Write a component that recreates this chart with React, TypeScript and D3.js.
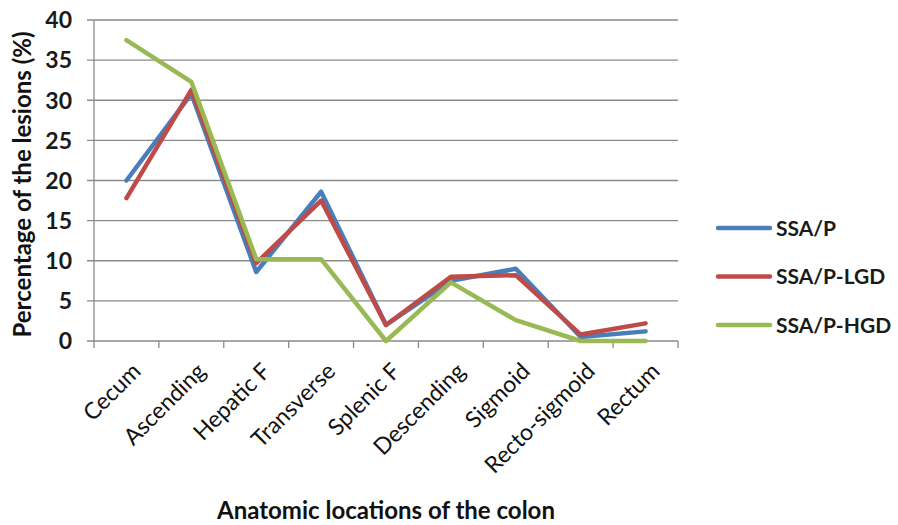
import React, { useEffect, useRef } from 'react';
import * as d3 from 'd3';

const categories = ['Cecum', 'Ascending', 'Hepatic F', 'Transverse', 'Splenic F', 'Descending', 'Sigmoid', 'Recto-sigmoid', 'Rectum'];
const ssaP = [20, 30.8, 8.6, 18.6, 2, 7.5, 9, 0.5, 1.2];
const ssaPLgd = [17.8, 31.3, 9.7, 17.5, 2, 8, 8.2, 0.8, 2.2];
const ssaPHgd = [37.5, 32.3, 10.2, 10.2, 0, 7.3, 2.6, 0, 0];
const yTicks = [0, 5, 10, 15, 20, 25, 30, 35, 40];

const series = [
  { name: 'SSA/P', values: ssaP, color: '#4a7ebb' },
  { name: 'SSA/P-LGD', values: ssaPLgd, color: '#be4b48' },
  { name: 'SSA/P-HGD', values: ssaPHgd, color: '#98b954' },
];

const App: React.FC = () => {
  const svgRef = useRef<SVGSVGElement>(null);
  const width = 898;
  const height = 525;

  useEffect(() => {
    if (!svgRef.current) return;
    const svg = d3.select(svgRef.current);
    svg.selectAll('*').remove();

    const margin = { top: 20, right: 220, bottom: 184, left: 94 };
    const innerW = width - margin.left - margin.right;
    const innerH = height - margin.top - margin.bottom;
    const font = 'Lato, "Open Sans", sans-serif';

    svg.append('rect').attr('width', width).attr('height', height).attr('fill', '#ffffff');

    const g = svg.append('g').attr('transform', `translate(${margin.left},${margin.top})`);

    const x = d3.scaleBand().domain(categories).range([0, innerW]);
    const y = d3.scaleLinear().domain([0, 40]).range([innerH, 0]);

    // gridlines + y ticks
    g.selectAll('.grid')
      .data(yTicks)
      .enter()
      .append('line')
      .attr('x1', -7)
      .attr('x2', innerW)
      .attr('y1', d => y(d))
      .attr('y2', d => y(d))
      .attr('stroke', '#8a8a8a')
      .attr('stroke-width', 1.3);

    g.selectAll('.ylab')
      .data(yTicks)
      .enter()
      .append('text')
      .attr('x', -22)
      .attr('y', d => y(d))
      .attr('dy', '0.36em')
      .attr('text-anchor', 'end')
      .attr('font-family', font)
      .attr('font-weight', 'bold')
      .attr('font-size', 23)
      .attr('fill', '#1a1a1a')
      .text(d => d);

    // y axis line
    g.append('line')
      .attr('x1', 0).attr('x2', 0).attr('y1', 0).attr('y2', innerH)
      .attr('stroke', '#8a8a8a').attr('stroke-width', 1.3);

    // x ticks
    const xTickPos = categories.map(c => x(c) as number).concat([innerW]);
    g.selectAll('.xtick')
      .data(xTickPos)
      .enter()
      .append('line')
      .attr('x1', d => d).attr('x2', d => d)
      .attr('y1', innerH).attr('y2', innerH + 7)
      .attr('stroke', '#8a8a8a').attr('stroke-width', 1.3);

    // x labels
    g.selectAll('.xlab')
      .data(categories)
      .enter()
      .append('text')
      .attr('transform', d => `translate(${(x(d) as number) + x.bandwidth() / 2 + 10},${innerH + 26}) rotate(-45)`)
      .attr('text-anchor', 'end')
      .attr('dy', '0.35em')
      .attr('font-family', font)
      .attr('font-size', 23)
      .attr('fill', '#111')
      .text(d => d);

    // lines
    const line = d3.line<number>()
      .x((_, i) => (x(categories[i]) as number) + x.bandwidth() / 2)
      .y(d => y(d));

    series.forEach(s => {
      g.append('path')
        .datum(s.values)
        .attr('fill', 'none')
        .attr('stroke', s.color)
        .attr('stroke-width', 4.5)
        .attr('stroke-linejoin', 'round')
        .attr('stroke-linecap', 'round')
        .attr('d', line);
    });

    // legend
    const legend = svg.append('g').attr('transform', 'translate(718,228)');
    series.forEach((s, i) => {
      const row = legend.append('g').attr('transform', `translate(0,${i * 48.5})`);
      row.append('line')
        .attr('x1', 0).attr('x2', 52).attr('y1', 0).attr('y2', 0)
        .attr('stroke', s.color).attr('stroke-width', 4.5).attr('stroke-linecap', 'round');
      row.append('text')
        .attr('x', 58).attr('y', 0).attr('dy', '0.36em')
        .attr('font-family', font).attr('font-weight', 'bold').attr('font-size', 21)
        .attr('fill', '#1a1a1a')
        .text(s.name);
    });

    // axis titles
    svg.append('text')
      .attr('transform', `translate(31,${margin.top + innerH / 2 + 4}) rotate(-90)`)
      .attr('text-anchor', 'middle')
      .attr('font-family', font).attr('font-weight', 'bold').attr('font-size', 24)
      .attr('fill', '#111')
      .text('Percentage of the lesions  (%)');

    svg.append('text')
      .attr('x', margin.left + innerW / 2)
      .attr('y', 519)
      .attr('text-anchor', 'middle')
      .attr('font-family', font).attr('font-weight', 'bold').attr('font-size', 24)
      .attr('fill', '#111')
      .text('Anatomic locations  of the colon');
  }, []);

  return (
    <svg
      ref={svgRef}
      width={width}
      height={height}
      style={{ position: 'absolute', top: 0, left: 0, display: 'block' }}
    />
  );
};

export default App;
